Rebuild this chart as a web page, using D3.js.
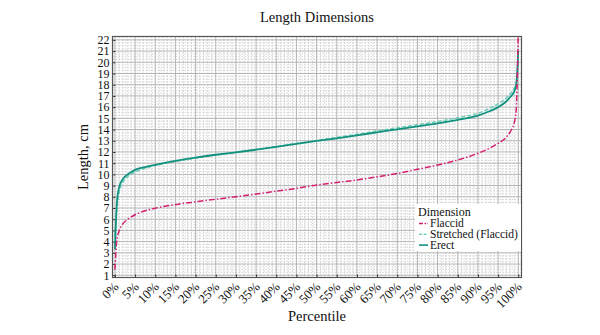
<!DOCTYPE html>
<html>
<head>
<meta charset="utf-8">
<script src="https://cdn.jsdelivr.net/npm/d3@7"></script>
<style>
  html, body { margin: 0; padding: 0; background: #fff; }
  svg { display: block; font-family: "Liberation Serif", "DejaVu Serif", serif; }
</style>
</head>
<body>
<svg id="chart" width="600" height="335"></svg>
<script>
// Percentile positions (%) at which each dimension is sampled
const percentiles = [0, 0.5, 1, 2, 3, 5, 7.5, 10, 15, 20, 25, 30, 35, 40, 45, 50, 55, 60, 65, 70, 75, 80, 85, 90, 93, 95, 97, 98, 99, 99.5, 100];

// Length in cm at each percentile
const flaccid = [1.5, 4.2, 4.9, 5.6, 5.95, 6.4, 6.75, 6.98, 7.3, 7.55, 7.78, 8.0, 8.25, 8.5, 8.75, 9.05, 9.28, 9.5, 9.78, 10.08, 10.45, 10.83, 11.28, 11.88, 12.35, 12.77, 13.3, 13.8, 14.6, 15.8, 23];
const stretched = [4.5, 7.0, 8.3, 9.3, 9.75, 10.2, 10.55, 10.8, 11.15, 11.45, 11.72, 11.97, 12.22, 12.48, 12.75, 13.02, 13.3, 13.58, 13.87, 14.15, 14.43, 14.72, 15.05, 15.45, 15.9, 16.3, 16.8, 17.2, 17.7, 18.3, 20.0];
const erect = [3.3, 7.5, 8.8, 9.6, 9.95, 10.4, 10.65, 10.85, 11.2, 11.5, 11.75, 11.97, 12.2, 12.45, 12.72, 12.98, 13.22, 13.48, 13.75, 14.02, 14.28, 14.55, 14.87, 15.25, 15.65, 16.0, 16.5, 16.9, 17.4, 18.0, 21.0];

const seriesNames = ["Flaccid", "Stretched (Flaccid)", "Erect"];
const xTicks = d3.range(0, 101, 5);
const yTicks = d3.range(1, 23, 1);

const svg = d3.select("#chart");
const plot = { left: 112.5, right: 521.5, top: 36.5, bottom: 277.5 };

const x = d3.scaleLinear().domain([-0.6, 100.8]).range([plot.left, plot.right]);
const y = d3.scaleLinear().domain([0.8, 22.3]).range([plot.bottom, plot.top]);

svg.append("defs").append("clipPath").attr("id", "clip")
  .append("rect")
  .attr("x", plot.left).attr("y", plot.top)
  .attr("width", plot.right - plot.left).attr("height", plot.bottom - plot.top);

// Grid: dotted minor lines, then solid major lines
const grid = svg.append("g");
const minorX = d3.range(0, 101, 1).filter(v => v % 5 !== 0);
const minorY = d3.range(1, 22.01, 0.25).filter(v => Math.abs(v - Math.round(v)) > 1e-6);
grid.selectAll(".mx").data(minorX).join("line")
  .attr("x1", d => x(d)).attr("x2", d => x(d))
  .attr("y1", plot.top).attr("y2", plot.bottom)
  .attr("stroke", "#c8c8c8").attr("stroke-width", 0.8).attr("stroke-dasharray", "1.5,1.5");
grid.selectAll(".my").data(minorY).join("line")
  .attr("y1", d => y(d)).attr("y2", d => y(d))
  .attr("x1", plot.left).attr("x2", plot.right)
  .attr("stroke", "#c8c8c8").attr("stroke-width", 0.8).attr("stroke-dasharray", "1.5,1.5");
grid.selectAll(".Mx").data(xTicks).join("line")
  .attr("x1", d => x(d)).attr("x2", d => x(d))
  .attr("y1", plot.top).attr("y2", plot.bottom)
  .attr("stroke", "#b4b4b4").attr("stroke-width", 1);
grid.selectAll(".My").data(yTicks).join("line")
  .attr("y1", d => y(d)).attr("y2", d => y(d))
  .attr("x1", plot.left).attr("x2", plot.right)
  .attr("stroke", "#b4b4b4").attr("stroke-width", 1);

// Axes
const xAxis = svg.append("g")
  .attr("transform", `translate(0,${plot.bottom})`)
  .call(d3.axisBottom(x).tickValues(xTicks).tickFormat(d => d + "%").tickSizeInner(-3).tickSizeOuter(0));
xAxis.select(".domain").remove();
xAxis.selectAll(".tick line").attr("stroke", "#333");
xAxis.selectAll(".tick text")
  .attr("font-family", "Liberation Serif, serif")
  .attr("font-size", 13).attr("fill", "#111")
  .attr("text-anchor", "end")
  .attr("dy", 0).attr("y", 0)
  .attr("transform", "translate(4,10) rotate(-45)");

const yAxis = svg.append("g")
  .attr("transform", `translate(${plot.left},0)`)
  .call(d3.axisLeft(y).tickValues(yTicks).tickFormat(d3.format("d")).tickSizeInner(-3).tickSizeOuter(0).tickPadding(3));
yAxis.select(".domain").remove();
yAxis.selectAll(".tick line").attr("stroke", "#333");
yAxis.selectAll(".tick text")
  .attr("font-family", "Liberation Serif, serif")
  .attr("font-size", 12).attr("fill", "#111");

// Frame
svg.append("rect")
  .attr("x", plot.left).attr("y", plot.top)
  .attr("width", plot.right - plot.left).attr("height", plot.bottom - plot.top)
  .attr("fill", "none").attr("stroke", "#555").attr("stroke-width", 1.2);

// Curves
const series = [
  { name: seriesNames[0], values: flaccid, color: "#d4206e", dash: "6,2,1.5,2", width: 1.5 },
  { name: seriesNames[1], values: stretched, color: "#6fcdb9", dash: "4,2", width: 1.5 },
  { name: seriesNames[2], values: erect, color: "#12917f", dash: null, width: 1.8 }
];
const line = d3.line()
  .x((d, i) => x(percentiles[i]))
  .y(d => y(d))
  .curve(d3.curveMonotoneX);

const curves = svg.append("g").attr("clip-path", "url(#clip)");
// Stretched first, then erect, then flaccid on top
[series[1], series[2], series[0]].forEach(s => {
  curves.append("path")
    .datum(s.values)
    .attr("d", line)
    .attr("fill", "none")
    .attr("stroke", s.color)
    .attr("stroke-width", s.width)
    .attr("stroke-dasharray", s.dash);
});

// Legend
const lg = svg.append("g");
lg.append("rect").attr("x", 415).attr("y", 204).attr("width", plot.right - 415 - 0.6).attr("height", 47).attr("fill", "#fff");
lg.append("text").attr("x", 418).attr("y", 216).attr("font-size", 12).attr("fill", "#111").text("Dimension");
series.forEach((s, i) => {
  const yy = 227 + i * 10.8;
  lg.append("line").attr("x1", 419).attr("x2", 428).attr("y1", yy - 3.5).attr("y2", yy - 3.5)
    .attr("stroke", s.color).attr("stroke-width", 1.6)
    .attr("stroke-dasharray", i === 0 ? "4,1.5,1.5,1.5" : (i === 1 ? "3,1.5" : null));
  lg.append("text").attr("x", 430).attr("y", yy).attr("font-size", 11.5).attr("fill", "#111").text(s.name);
});

// Titles
svg.append("text").attr("x", 317).attr("y", 22).attr("text-anchor", "middle")
  .attr("font-size", 14.5).attr("fill", "#111").text("Length Dimensions");
svg.append("text").attr("x", 317).attr("y", 321).attr("text-anchor", "middle")
  .attr("font-size", 14.5).attr("fill", "#111").text("Percentile");
svg.append("text").attr("transform", "translate(88,157) rotate(-90)").attr("text-anchor", "middle")
  .attr("font-size", 14.5).attr("fill", "#111").text("Length, cm");
</script>
</body>
</html>
